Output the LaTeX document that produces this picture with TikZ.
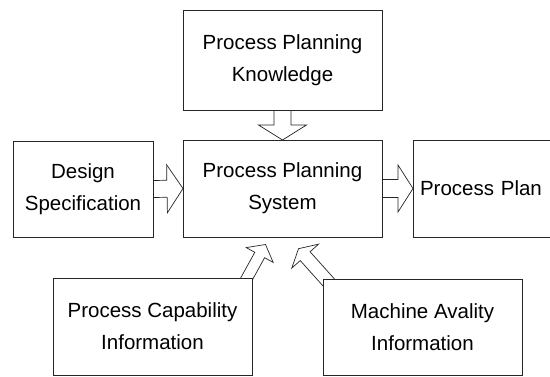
\documentclass[tikz,border=0pt]{standalone}
\usepackage{fontspec}
\setmainfont{Liberation Sans}
\usetikzlibrary{calc,backgrounds}
\tikzset{
  box/.style={draw=black!85, line width=0.7pt, fill=white, rectangle,
    inner sep=0pt, outer sep=0pt, align=center,
    font=\fontsize{20.5}{32}\selectfont},
  blockarr/.style={draw=black!85, line width=0.7pt, line join=miter, fill=white},
}
% Outlined block arrow: tail, tip, shaft half width, head half width, head length
\newcommand\blockarrow[5]{%
  \draw[blockarr] ($(#1)!#3!90:(#2)$)
    -- ($(#2)!#5!(#1)!#3!-90:(#1)$)
    -- ($(#2)!#5!(#1)!#4!-90:(#1)$)
    -- (#2)
    -- ($(#2)!#5!(#1)!#4!90:(#1)$)
    -- ($(#2)!#5!(#1)!#3!90:(#1)$)
    -- ($(#1)!#3!-90:(#2)$) -- cycle;}
\begin{document}
\begin{tikzpicture}[x=1pt,y=-1pt]
  \useasboundingbox (0,0) rectangle (550,376);

  % boxes
  \node[box, minimum width=199pt, minimum height=100pt] (ppk) at (282.5,60)
    {Process Planning\\Knowledge};
  \node[box, minimum width=199pt, minimum height=97pt] (pps) at (282.5,188.5)
    {Process Planning\\System};
  \node[box, minimum width=140pt, minimum height=96pt] (ds) at (83,189)
    {Design\\Specification};
  \node[box, minimum width=150pt, minimum height=97pt, text width=136pt,
    align=left, inner xsep=7pt] (plan) at (488,188.5) {Process Plan};
  \node[box, minimum width=199pt, minimum height=97pt] (pcap) at (152.5,326.5)
    {Process Capability\\Information};
  \node[box, minimum width=199pt, minimum height=96pt] (mai) at (422.5,327)
    {Machine Avality\\Information};

  % arrow end points for the two inputs from below
  \coordinate (ltail) at ($(pcap.north east)+(-8,5.5)$);
  \coordinate (ltip)  at ($(pps.south)+(-17,7.5)$);
  \coordinate (rtail) at ($(mai.north west)+(8.8,6.9)$);
  \coordinate (rtip)  at ($(pps.south)+(16,11.7)$);

  % block arrows, behind the boxes
  \begin{scope}[on background layer]
    \blockarrow{ppk.south}{pps.north}{8.5pt}{24pt}{15pt}
    \blockarrow{ds.east}{pps.west}{8.5pt}{24pt}{16pt}
    \blockarrow{pps.east}{plan.west}{9pt}{23.5pt}{15pt}
    \blockarrow{ltail}{ltip}{5.6pt}{15.4pt}{12pt}
    \blockarrow{rtail}{rtip}{6.6pt}{18pt}{10pt}
  \end{scope}
\end{tikzpicture}
\end{document}
